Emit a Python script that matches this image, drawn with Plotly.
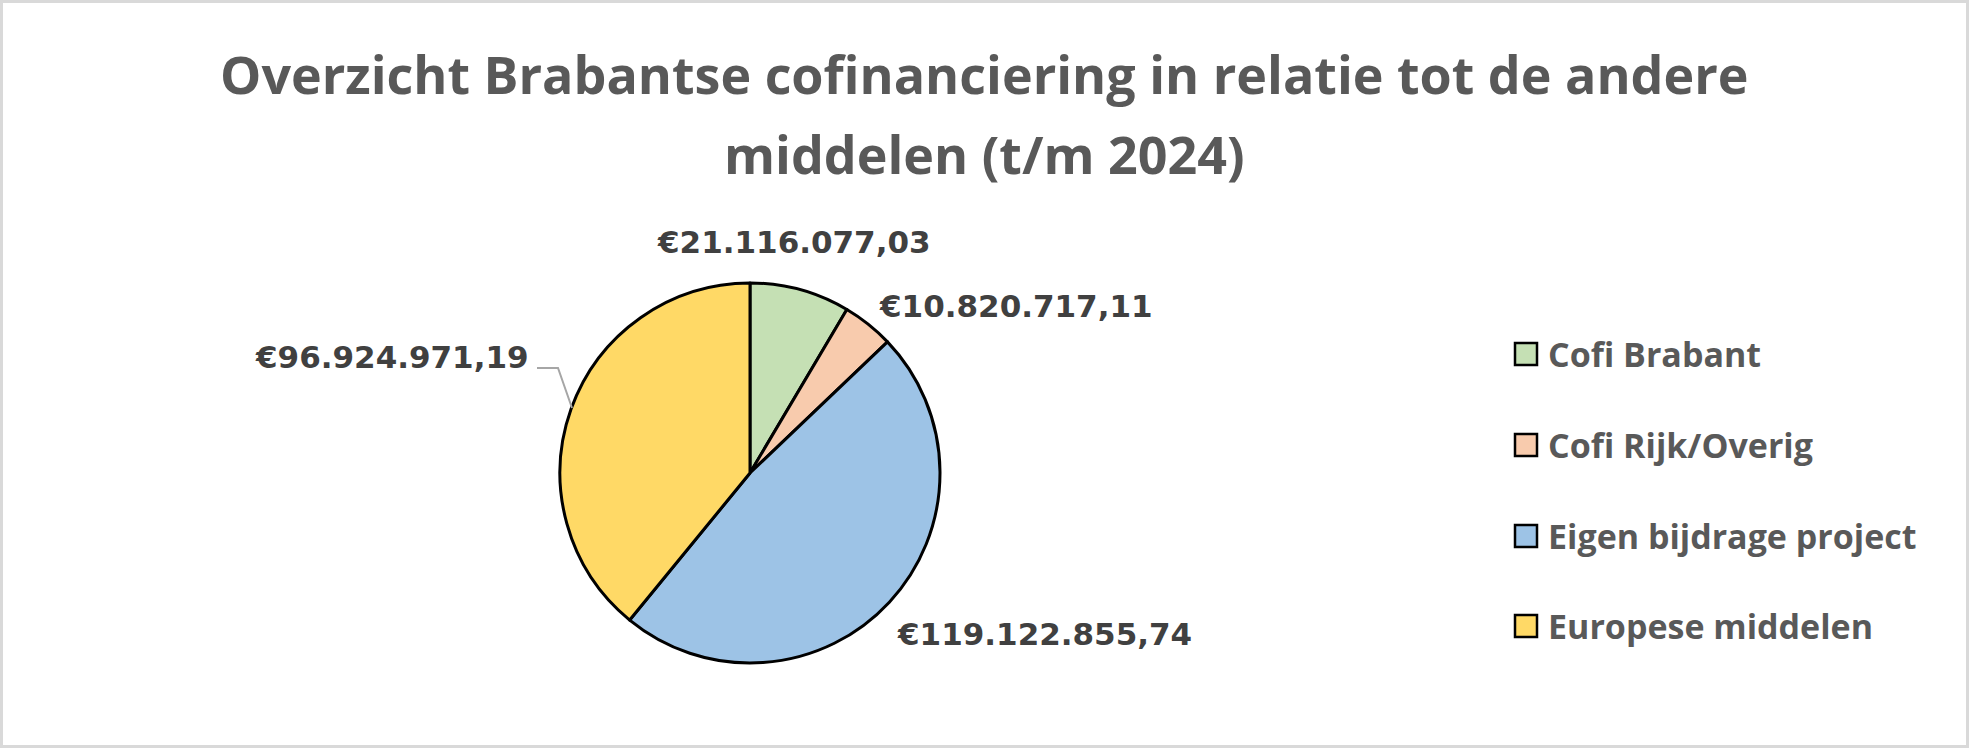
import plotly.graph_objects as go

W, H = 1969, 748

categories = ["Cofi Brabant", "Cofi Rijk/Overig", "Eigen bijdrage project", "Europese middelen"]
values = [21116077.03, 10820717.11, 119122855.74, 96924971.19]
colors = ["#C5E0B4", "#F8CBAD", "#9DC3E6", "#FFD966"]
title_lines = ["Overzicht Brabantse cofinanciering in relatie tot de andere", "middelen (t/m 2024)"]


def euro(v):
    s = f"{v:,.2f}"
    s = s.replace(",", "X").replace(".", ",").replace("X", ".")
    return "€" + s


# pie geometry (pixels)
cx, cy, r = 750, 473, 190

fig = go.Figure()
fig.add_trace(go.Pie(
    labels=categories,
    values=values,
    sort=False,
    direction="clockwise",
    rotation=0,
    marker=dict(colors=colors, line=dict(color="#000000", width=3)),
    textinfo="none",
    hoverinfo="label+value+percent",
    showlegend=False,
    domain=dict(x=[(cx - r) / W, (cx + r) / W], y=[(H - cy - r) / H, (H - cy + r) / H]),
))

annotations = []

# title (two lines, Excel-like line spacing)
for txt, y in zip(title_lines, [74, 153]):
    annotations.append(dict(
        x=0.5, y=1 - y / H, xref="paper", yref="paper",
        text=txt, showarrow=False, xanchor="center", yanchor="middle",
        font=dict(family="Open Sans", size=52, color="#595959", weight="bold"),
    ))

# data labels (pixel positions of label centres)
label_pos = [(794, 242, "center"), (1016, 306, "center"), (1044, 634, "center"), (531, 357, "right")]
for v, (x, y, anc) in zip(values, label_pos):
    annotations.append(dict(
        x=x / W, y=1 - y / H, xref="paper", yref="paper",
        text=euro(v), showarrow=False, xanchor=anc, yanchor="middle",
        font=dict(family="DejaVu Sans", size=31, color="#404040", weight="bold"),
    ))

shapes = []
# leader line for Europese middelen label
shapes.append(dict(
    type="path", xref="paper", yref="paper",
    path=f"M {537 / W} {1 - 368 / H} L {558 / W} {1 - 368 / H} L {572 / W} {1 - 408 / H}",
    line=dict(color="#A6A6A6", width=2),
))

# legend (manual, to match large boxes)
leg_y = [354, 445, 536, 626]
for cat, col, y in zip(categories, colors, leg_y):
    shapes.append(dict(
        type="rect", xref="paper", yref="paper",
        x0=1515 / W, x1=1537 / W, y0=1 - (y + 11) / H, y1=1 - (y - 11) / H,
        fillcolor=col, line=dict(color="#000000", width=2.5),
    ))
    annotations.append(dict(
        x=1546 / W, y=1 - y / H, xref="paper", yref="paper",
        text=cat, showarrow=False, xanchor="left", yanchor="middle",
        font=dict(family="Open Sans", size=34, color="#595959", weight="bold"),
    ))

# chart border
shapes.append(dict(
    type="rect", xref="paper", yref="paper",
    x0=1.5 / W, x1=1 - 1.5 / W, y0=1.5 / H, y1=1 - 1.5 / H,
    line=dict(color="#D9D9D9", width=3), fillcolor="rgba(0,0,0,0)",
))

fig.update_layout(
    width=W, height=H,
    margin=dict(l=0, r=0, t=0, b=0),
    paper_bgcolor="white",
    plot_bgcolor="white",
    annotations=annotations,
    shapes=shapes,
)

fig.write_html(
    "out.html",
    config={"displayModeBar": False},
    post_script="document.body.style.margin='0';document.body.style.overflow='hidden';",
)
